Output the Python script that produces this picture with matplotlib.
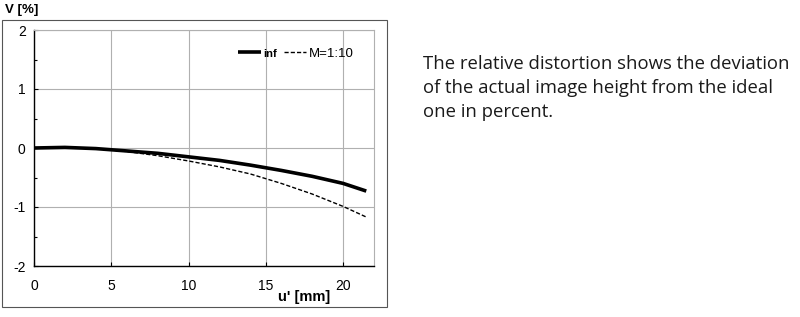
import matplotlib
matplotlib.use("Agg")
import matplotlib.pyplot as plt
from matplotlib.patches import Rectangle

plt.rcParams["axes.unicode_minus"] = False

u = [0, 2, 4, 6, 8, 10, 12, 14, 16, 18, 20, 21.5]
v_inf = [0, 0.01, -0.01, -0.05, -0.09, -0.15, -0.21, -0.29, -0.38, -0.48, -0.60, -0.73]
v_m10 = [0, 0.01, -0.01, -0.06, -0.13, -0.22, -0.32, -0.44, -0.60, -0.78, -0.99, -1.17]
xticks = [0, 5, 10, 15, 20]
yticks = [-2, -1, 0, 1, 2]
description = ["The relative distortion shows the deviation",
               "of the actual image height from the ideal",
               "one in percent."]

W, H = 800, 317
fig = plt.figure(figsize=(W/100, H/100), dpi=100)
ax = fig.add_axes([34/W, 1-266/H, (374-34)/W, (266-30)/H])

ax.plot(u, v_inf, color="black", lw=2.6, solid_capstyle="butt", label="inf")
ax.plot(u, v_m10, color="black", lw=1.0, ls=(0, (3, 1.5)), label="M=1:10")

ax.set_xlim(0, 22)
ax.set_ylim(-2, 2)
ax.set_xticks(xticks)
ax.set_yticks(yticks)
ax.set_yticks([-1.5, -0.5, 0.5, 1.5], minor=True)
ax.grid(True, which="major", color="#b0b0b0", lw=0.8)
for s in ["top", "right"]:
    ax.spines[s].set_color("#b0b0b0")
    ax.spines[s].set_linewidth(0.8)
for s in ["left", "bottom"]:
    ax.spines[s].set_color("black")
    ax.spines[s].set_linewidth(1.0)
ax.tick_params(axis="both", which="major", direction="in", length=3, width=0.8,
               labelsize=10, pad=6)
ax.tick_params(axis="y", which="minor", direction="in", length=2, width=0.8)
for lab in ax.get_xticklabels() + ax.get_yticklabels():
    lab.set_fontfamily("Liberation Sans")
ax.tick_params(axis="x", pad=9)

leg = ax.legend(loc="upper right", bbox_to_anchor=(0.975, 0.975), ncol=2, frameon=False,
                prop={"family": "Liberation Sans", "size": 9.5}, handlelength=1.7,
                handletextpad=0.2, columnspacing=0.5, borderaxespad=0.5)
for t in leg.get_texts():
    if t.get_text() == "inf":
        t.set_fontweight("bold")
        t.set_fontsize(8)

fig.text(5/W, 1-10/H, "V [%]", fontfamily="Liberation Sans", fontweight="bold",
         fontsize=9.5, va="center", ha="left")
fig.text(330/W, 1-297/H, "u' [mm]", fontfamily="Liberation Sans", fontweight="bold",
         fontsize=10.5, va="center", ha="right")

fig.add_artist(Rectangle((2/W, 1-307/H), (387-2)/W, (307-20)/H, transform=fig.transFigure,
                         fill=False, edgecolor="#555555", lw=0.8))

for i, line in enumerate(description):
    fig.text(423/W, 1-(62+24*i)/H, line, fontfamily="Open Sans", fontsize=13.3,
             va="center_baseline", ha="left", color="#1a1a1a")

fig.savefig("out.png", dpi=100)
